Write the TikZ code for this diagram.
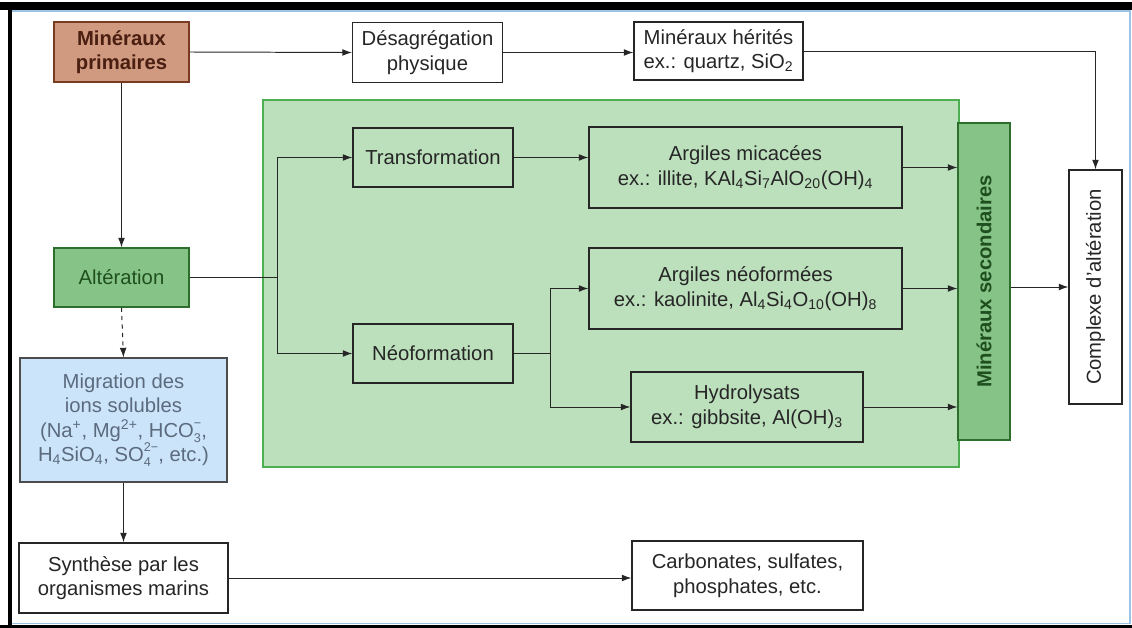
\documentclass[tikz,border=0pt]{standalone}
\usepackage{fontspec}
\setmainfont{Liberation Sans}
\usepackage{graphicx}
\usetikzlibrary{arrows.meta}

\definecolor{primfill}{HTML}{CF9A80}
\definecolor{primdraw}{HTML}{7A3A22}
\definecolor{primtext}{HTML}{4A1E10}
\definecolor{altfill}{HTML}{86C386}
\definecolor{altdraw}{HTML}{2D6E2D}
\definecolor{alttext}{HTML}{1F4F1F}
\definecolor{bgfill}{HTML}{BCDFBC}
\definecolor{bgdraw}{HTML}{4CAF50}
\definecolor{migfill}{HTML}{CCE4FA}
\definecolor{migtext}{HTML}{5B6B7D}
\definecolor{frameblue}{HTML}{9CC3E6}

\newcommand{\ionsub}[2]{\makebox[0pt][l]{\raisebox{-0.45ex}{\fontsize{9}{9}\selectfont #1}}\raisebox{0.95ex}{\fontsize{9}{9}\selectfont #2}}

\begin{document}
\begin{tikzpicture}[x=0.025cm, y=-0.025cm,
    box/.style={draw=black!85, line width=0.8pt, align=center, inner sep=0pt, text=black!85,
        font=\fontsize{14.4}{17.5}\selectfont},
    bold/.style={font=\fontsize{14.4}{17.5}\selectfont\bfseries},
    wh/.style 2 args={minimum width=#1*0.025cm, minimum height=#2*0.025cm},
    link/.style={line width=0.7pt, black!85},
    arr/.style={link, -{Latex[length=2.4mm, width=1.7mm]}}]

    \useasboundingbox (0,0) rectangle (1132,628);

    \fill[black] (0,2) rectangle (1132,10);
    \fill[black] (8,2) rectangle (12,628);
    \fill[black] (0,625) rectangle (1132,628);
    \draw[frameblue, line width=0.8pt] (12,11) -- (1130,11) -- (1130,623.5) -- (12,623.5);

    \draw[draw=bgdraw, fill=bgfill, line width=0.8pt] (263,100) rectangle (959,467);

    \node[box, bold, wh={135}{60}, fill=primfill, draw=primdraw, text=primtext] (prim) at (121.5,52) {Minéraux\\primaires};
    \node[box, wh={150}{60}] (desag) at (427.5,52.5) {Désagrégation\\physique};
    \node[box, wh={169}{58}] (herit) at (718.5,51) {Minéraux hérités\\ex.: quartz, SiO\textsubscript{2}};

    \node[box, wh={135}{59}, fill=altfill, draw=altdraw, text=alttext] (alter) at (121.5,277.5) {Altération};
    \node[box, wh={207}{124}, fill=migfill, draw=black!70, text=migtext] (migr) at (123.5,420)
        {Migration des\\ions solubles\\(Na\textsuperscript{+}, Mg\textsuperscript{2+}, HCO\ionsub{3}{−},\\H\textsubscript{4}SiO\textsubscript{4}, SO\ionsub{4}{2−}, etc.)};
    \node[box, wh={209}{70}, fill=white] (synth) at (123.5,578) {Synthèse par les\\organismes marins};
    \node[box, wh={231}{69}, fill=white] (carb) at (747.5,575.5) {Carbonates, sulfates,\\phosphates, etc.};

    \node[box, wh={160}{59}] (transf) at (433,157.5) {Transformation};
    \node[box, wh={160}{59}] (neo) at (433,353.5) {Néoformation};
    \node[box, wh={313}{81}] (mica) at (745.5,167.5) {Argiles micacées\\ex.: illite, KAl\textsubscript{4}Si\textsubscript{7}AlO\textsubscript{20}(OH)\textsubscript{4}};
    \node[box, wh={313}{81}] (neof) at (745.5,288.5) {Argiles néoformées\\ex.: kaolinite, Al\textsubscript{4}Si\textsubscript{4}O\textsubscript{10}(OH)\textsubscript{8}};
    \node[box, wh={232}{70}] (hydro) at (747,407) {Hydrolysats\\ex.: gibbsite, Al(OH)\textsubscript{3}};

    \node[box, bold, wh={52}{317}, fill=altfill, draw=altdraw, text=alttext] (second) at (984,281.5) {\rotatebox{90}{Minéraux secondaires}};
    \node[box, wh={53}{234}, fill=white] (cplx) at (1095.5,287) {\rotatebox{90}{Complexe d'altération}};

    \coordinate (split) at (277,277.5);
    \coordinate (fork) at (550,353.5);

    \draw[arr] (prim.east) -- (desag.west);
    \draw[arr] (desag.east) -- (herit.west |- desag.east);
    \draw[arr] (herit.east) -| (cplx.north);
    \draw[arr] (prim.south) -- (alter.north);
    \draw[arr, dashed] (alter.south) -- (migr.north);
    \draw[arr] (migr.south) -- (synth.north);
    \draw[arr] (synth.east) -- (synth.east -| carb.west);

    \draw[link] (alter.east) -- (split);
    \draw[arr] (split) |- (transf.west);
    \draw[arr] (split) |- (neo.west);
    \draw[arr] (transf.east) -- (transf.east -| mica.west);
    \draw[link] (neo.east) -- (fork);
    \draw[arr] (fork) |- (neof.west);
    \draw[arr] (fork) |- (hydro.west);

    \foreach \src in {mica, neof, hydro}
        \draw[arr] (\src.east) -- (\src.east -| second.west);
    \draw[arr] (second.east |- cplx.west) -- (cplx.west);

\end{tikzpicture}
\end{document}
